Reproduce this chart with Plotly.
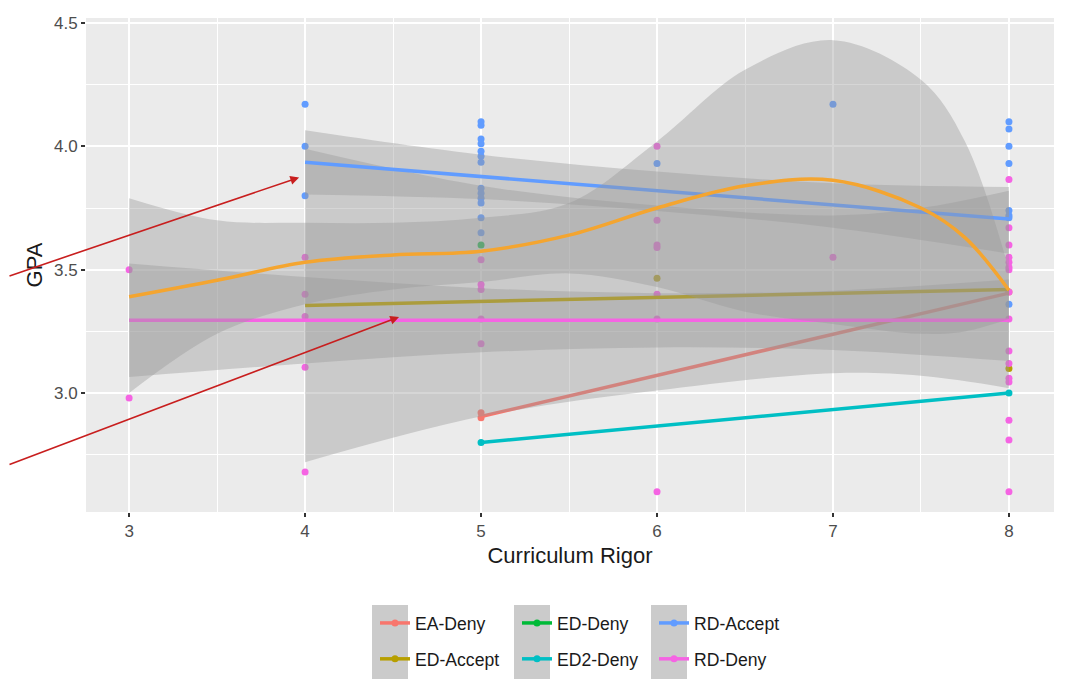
import plotly.graph_objects as go

# ---------------- data ----------------
groups = ["EA-Deny", "ED-Accept", "ED-Deny", "ED2-Deny", "RD-Accept", "RD-Deny"]
colors = {"EA-Deny": "#F8766D", "ED-Accept": "#B79F00", "ED-Deny": "#00BA38",
          "ED2-Deny": "#00BFC4", "RD-Accept": "#619CFF", "RD-Deny": "#F564E3"}

# scatter points (Curriculum Rigor, GPA)
rd_accept_x = [4, 4, 4] + [5]*13 + [6, 7] + [8]*8
rd_accept_y = [4.17, 4.00, 3.80,
               4.10, 4.085, 4.03, 4.01, 3.98, 3.96, 3.935, 3.83, 3.81, 3.79, 3.77, 3.71, 3.65,
               3.93, 4.17,
               4.10, 4.07, 4.00, 3.93, 3.74, 3.72, 3.71, 3.36]
rd_deny_x = [3, 3] + [4]*5 + [5]*5 + [6]*7 + [7] + [8]*16
rd_deny_y = [3.50, 2.98,
             3.55, 3.40, 3.31, 3.105, 2.68,
             3.54, 3.44, 3.42, 3.30, 3.20,
             4.00, 3.70, 3.60, 3.59, 3.40, 3.30, 2.60,
             3.55,
             3.865, 3.67, 3.60, 3.55, 3.53, 3.51, 3.50, 3.41, 3.30, 3.17, 3.12, 3.06, 3.045,
             2.89, 2.81, 2.60]
ed_accept_x = [6, 8]
ed_accept_y = [3.465, 3.10]
ea_deny_x = [5, 5, 8]
ea_deny_y = [2.92, 2.90, 3.41]
ed2_deny_x = [5, 8]
ed2_deny_y = [2.80, 3.00]
ed_deny_x = [5]
ed_deny_y = [3.60]

# linear fits per group (x, fitted GPA)
fit_ea_deny_x, fit_ea_deny_y = [5, 8], [2.905, 3.405]
fit_ed_accept_x, fit_ed_accept_y = [4, 8], [3.355, 3.42]
fit_ed2_deny_x, fit_ed2_deny_y = [5, 8], [2.80, 3.00]
fit_rd_accept_x, fit_rd_accept_y = [4, 8], [3.935, 3.705]
fit_rd_deny_x, fit_rd_deny_y = [3, 8], [3.295, 3.295]

# confidence bands
band_ed_accept_x = [4, 5, 6, 7, 7.5, 8]
band_ed_accept_lo = [2.72, 2.905, 3.01, 3.08, 3.07, 3.02]
band_ed_accept_hi = [3.99, 3.84, 3.76, 3.72, 3.75, 3.82]
band_rd_accept_x = [4, 5, 6, 7, 8]
band_rd_accept_lo = [3.805, 3.786, 3.738, 3.67, 3.565]
band_rd_accept_hi = [4.065, 3.966, 3.898, 3.85, 3.835]
band_rd_deny_x = [3, 4, 5, 6, 7, 8]
band_rd_deny_lo = [3.065, 3.12, 3.165, 3.185, 3.175, 3.13]
band_rd_deny_hi = [3.525, 3.47, 3.425, 3.405, 3.415, 3.46]

# overall loess smooth
loess_x = [3, 3.5, 4, 4.5, 5, 5.5, 6, 6.5, 7, 7.5, 7.75, 8]
loess_y = [3.39, 3.457, 3.53, 3.56, 3.575, 3.64, 3.75, 3.84, 3.862, 3.75, 3.63, 3.417]
loess_lo = [3.00, 3.24, 3.36, 3.42, 3.45, 3.485, 3.43, 3.33, 3.28, 3.24, 3.25, 3.30]
loess_hi = [3.79, 3.70, 3.69, 3.69, 3.71, 3.77, 4.02, 4.31, 4.43, 4.27, 4.02, 3.50]

x_ticks = [3, 4, 5, 6, 7, 8]
y_ticks = [3.0, 3.5, 4.0, 4.5]

# arrow targets (data coords) and tail offsets (px)
arrow_targets = [(3.966, 3.874, -311, 99), (4.534, 3.308, -411, 148)]

# ---------------- figure ----------------
fig = go.Figure()
BAND = "rgba(153,153,153,0.4)"
LW = 3.5
FONT = "Liberation Sans, Arial, sans-serif"

points = [("EA-Deny", ea_deny_x, ea_deny_y), ("ED-Accept", ed_accept_x, ed_accept_y),
          ("ED-Deny", ed_deny_x, ed_deny_y), ("ED2-Deny", ed2_deny_x, ed2_deny_y),
          ("RD-Accept", rd_accept_x, rd_accept_y), ("RD-Deny", rd_deny_x, rd_deny_y)]
for g, xs, ys in points:
    fig.add_trace(go.Scatter(x=xs, y=ys, mode="markers", showlegend=False,
                             marker=dict(color=colors[g], size=7), hoverinfo="skip"))


def band(xs, lo, hi, shape="linear"):
    fig.add_trace(go.Scatter(x=xs, y=lo, mode="lines", line=dict(width=0, shape=shape),
                             showlegend=False, hoverinfo="skip"))
    fig.add_trace(go.Scatter(x=xs, y=hi, mode="lines", line=dict(width=0, shape=shape),
                             fill="tonexty", fillcolor=BAND, showlegend=False, hoverinfo="skip"))


def line(xs, ys, color, shape="linear"):
    fig.add_trace(go.Scatter(x=xs, y=ys, mode="lines", line=dict(color=color, width=LW, shape=shape),
                             showlegend=False, hoverinfo="skip"))


line(fit_ea_deny_x, fit_ea_deny_y, colors["EA-Deny"])
band(band_ed_accept_x, band_ed_accept_lo, band_ed_accept_hi, "spline")
line(fit_ed_accept_x, fit_ed_accept_y, colors["ED-Accept"])
line(fit_ed2_deny_x, fit_ed2_deny_y, colors["ED2-Deny"])
band(band_rd_accept_x, band_rd_accept_lo, band_rd_accept_hi, "spline")
line(fit_rd_accept_x, fit_rd_accept_y, colors["RD-Accept"])
band(band_rd_deny_x, band_rd_deny_lo, band_rd_deny_hi, "spline")
line(fit_rd_deny_x, fit_rd_deny_y, colors["RD-Deny"])
band(loess_x, loess_lo, loess_hi, "spline")
line(loess_x, loess_y, "#F4A530", "spline")

# legend entries, three columns of two (column-wise like ggplot)
legend_cols = [["EA-Deny", "ED-Accept"], ["ED-Deny", "ED2-Deny"], ["RD-Accept", "RD-Deny"]]
legend_names = ["legend", "legend2", "legend3"]
for lname, col in zip(legend_names, legend_cols):
    for g in col:
        fig.add_trace(go.Scatter(x=[None], y=[None], mode="lines+markers", name=g,
                                 legend=lname, legendgroup=g,
                                 line=dict(color=colors[g], width=LW),
                                 marker=dict(color=colors[g], size=7)))

# page body has an 8px margin, so the figure is sized to fit the 1080x700 window
OFF = 8
W, H = 1080 - OFF, 700 - OFF
ML, MR, MT, MB = 78, 26, 10, 188
PW, PH = W - ML - MR, H - MT - MB


def page_x(px):
    return (px - OFF - ML) / PW


def page_y(py):
    return (OFF + H - MB - py) / PH


legend_left_px = [375, 517, 654]
leg_font = dict(family=FONT, size=17.6, color="#1A1A1A")
legend_layouts = {}
for lname, lx in zip(legend_names, legend_left_px):
    legend_layouts[lname] = dict(x=page_x(lx), y=page_y(605), xanchor="left", yanchor="top",
                                 orientation="v", bgcolor="rgba(0,0,0,0)", font=leg_font,
                                 traceorder="grouped", tracegroupgap=10, borderwidth=0)

shapes = []
for lx in legend_left_px:
    shapes.append(dict(type="rect", xref="paper", yref="paper",
                       x0=page_x(lx - 3), x1=page_x(lx + 33),
                       y0=page_y(605), y1=page_y(679),
                       fillcolor="#CBCBCB", line=dict(width=0), layer="below"))

annotations = []
for (ax_x, ax_y, dx, dy) in arrow_targets:
    annotations.append(dict(x=ax_x, y=ax_y, xref="x", yref="y", ax=dx, ay=dy,
                            axref="pixel", ayref="pixel", text="", showarrow=True,
                            arrowhead=2, arrowsize=1.1, arrowwidth=1.6, arrowcolor="#C81E1E"))

axis_common = dict(showgrid=True, gridcolor="white", gridwidth=1.6, zeroline=False, showline=False,
                   ticks="outside", ticklen=4, tickwidth=1.6, tickcolor="#333333", automargin=False,
                   tickfont=dict(family=FONT, size=17, color="#4D4D4D"))

fig.update_layout(
    width=W, height=H,
    margin=dict(l=ML, r=MR, t=MT, b=MB),
    paper_bgcolor="white", plot_bgcolor="#EBEBEB",
    font=dict(family=FONT),
    xaxis=dict(range=[2.755, 8.256], tickvals=x_ticks, ticktext=[str(v) for v in x_ticks],
               minor=dict(dtick=0.5, tick0=3, showgrid=True, gridcolor="white", gridwidth=0.8, ticks=""),
               title=dict(text="Curriculum Rigor", font=dict(size=22, color="#1A1A1A"), standoff=7),
               **axis_common),
    yaxis=dict(range=[2.518, 4.52], tickvals=y_ticks, ticktext=[f"{v:.1f}" for v in y_ticks],
               minor=dict(dtick=0.25, tick0=2.75, showgrid=True, gridcolor="white", gridwidth=0.8, ticks=""),
               title=dict(text="GPA", font=dict(size=22, color="#1A1A1A"), standoff=5),
               **axis_common),
    shapes=shapes,
    annotations=annotations,
    hovermode=False,
    **legend_layouts,
)

fig.write_html("out.html")
